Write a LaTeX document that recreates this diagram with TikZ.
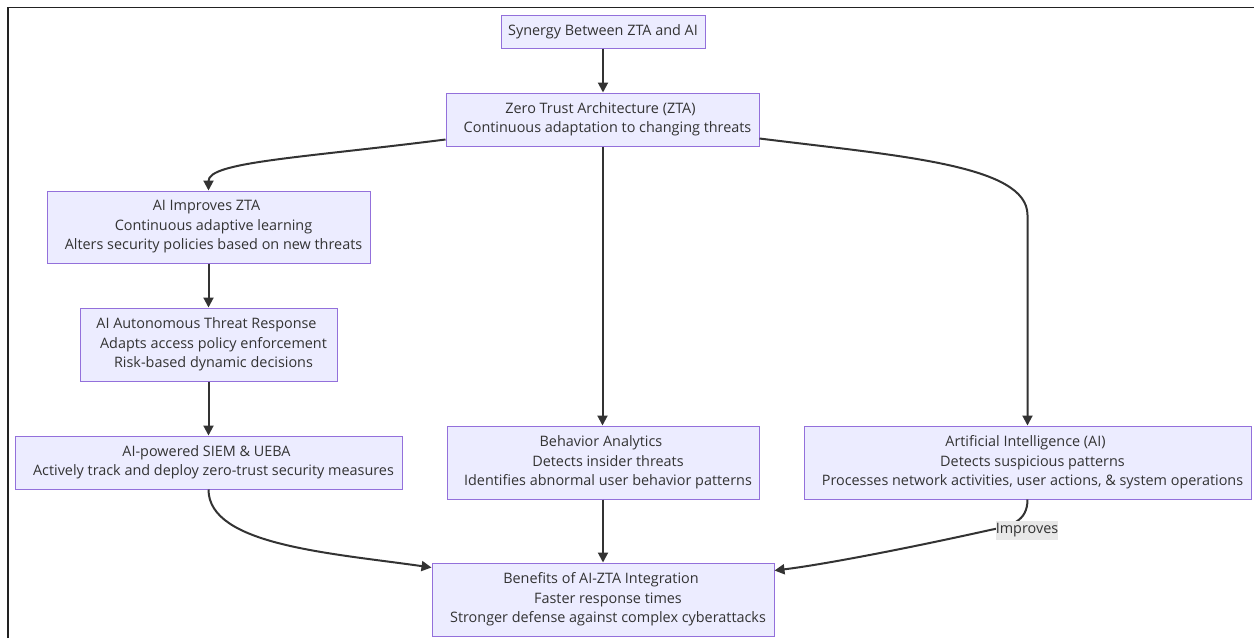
\documentclass[tikz,border=0pt]{standalone}
\usepackage{fontspec}
\setmainfont{Open Sans}
\usetikzlibrary{arrows.meta,calc}
\definecolor{boxfill}{HTML}{ECECFF}
\definecolor{boxline}{HTML}{9370DB}
\definecolor{ink}{HTML}{333333}
\definecolor{framec}{HTML}{222222}
\definecolor{lblfill}{HTML}{E8E8E8}
\newcommand{\lpad}{\hspace*{10pt}}
\newcommand{\tpad}{\hspace*{4pt}}
\begin{document}
\begin{tikzpicture}[x=1pt,y=-1pt,
  box/.style={draw=boxline, fill=boxfill, line width=1pt, text=ink, align=center,
    inner sep=0pt, font=\fontsize{14.4}{19.5}\selectfont},
  edge/.style={draw=ink, line width=2pt, -{Triangle[length=10pt,width=10pt]}},
  lbl/.style={fill=lblfill, text=ink, inner sep=0pt, minimum width=62pt, minimum height=19pt,
    font=\fontsize{14.4}{17}\selectfont}]
\useasboundingbox (0,0) rectangle (1254,638);
\draw[line width=1.5pt, framec] (8,638) -- (8,7.5) -- (1254,7.5);

\node[box, minimum width=204pt, minimum height=33pt] (syn) at (603,31.5)
  {Synergy Between ZTA and AI};
\node[box, minimum width=313pt, minimum height=53pt] (zta) at (602.5,119.5)
  {Zero Trust Architecture (ZTA)\tpad\\ \lpad Continuous adaptation to changing threats};
\node[box, minimum width=323pt, minimum height=72pt] (aiz) at (208.5,227)
  {AI Improves ZTA\tpad\\ \lpad Continuous adaptive learning\\ \lpad Alters security policies based on new threats};
\node[box, minimum width=257pt, minimum height=73pt] (aut) at (208.5,344.5)
  {AI Autonomous Threat Response\tpad\\ \lpad Adapts access policy enforcement\\ \lpad Risk-based dynamic decisions};
\node[box, minimum width=387pt, minimum height=53pt] (siem) at (208.5,462.5)
  {AI-powered SIEM \& UEBA\tpad\\ \lpad Actively track and deploy zero-trust security measures};
\node[box, minimum width=312pt, minimum height=73pt] (beh) at (603,462.5)
  {Behavior Analytics\tpad\\ \lpad Detects insider threats\\ \lpad Identifies abnormal user behavior patterns};
\node[box, minimum width=447pt, minimum height=73pt] (ai) at (1027.5,462.5)
  {Artificial Intelligence (AI)\tpad\\ \lpad Detects suspicious patterns\\ \lpad Processes network activities, user actions, \& system operations};
\node[box, minimum width=342pt, minimum height=73pt] (ben) at (603,599.5)
  {Benefits of AI-ZTA Integration\tpad\\ \lpad Faster response times\\ \lpad Stronger defense against complex cyberattacks};

\draw[edge] (syn.south) -- (syn.south |- zta.north);
\draw[edge] ($(zta.south west)+(0,-7)$) .. controls (300,158) and (208.5,162) .. (aiz.north);
\draw[edge] (zta.south) -- (zta.south |- beh.north);
\draw[edge] ($(zta.south east)+(0,-8)$) .. controls (900,156) and (1027.5,165) .. (1027.5,215) -- (ai.north);
\draw[edge] (aiz.south) -- (aut.north);
\draw[edge] (aut.south) -- (siem.north);
\draw[edge] (siem.south) .. controls (208.5,545) and (330,553) .. ($(ben.north west)+(0,5)$);
\draw[edge] (beh.south) -- (beh.south |- ben.north);
\draw[edge] (ai.south) .. controls (1027.5,522) and (1010,526) .. (990,530)
  .. controls (900,550) and (820,565) .. ($(ben.north east)+(0,8)$);
\node[lbl] (imp) at (1027,530.5) {Improves};
\end{tikzpicture}
\end{document}
